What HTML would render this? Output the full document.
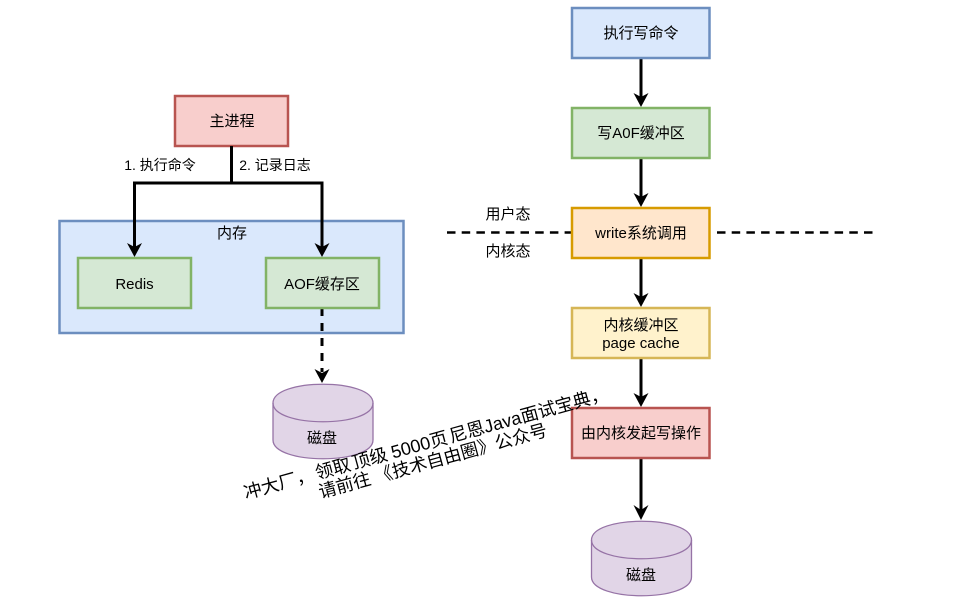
<!DOCTYPE html>
<html><head><meta charset="utf-8">
<style>
html,body{margin:0;padding:0;background:#fff;width:965px;height:603px;overflow:hidden}
svg{display:block}
text{font-family:"Liberation Sans","Noto Sans CJK SC",sans-serif;font-size:15px;fill:#000;text-anchor:middle}
.s{font-size:14px}
</style></head><body>
<svg width="965" height="603" viewBox="0 0 965 603" xmlns="http://www.w3.org/2000/svg">
<!-- memory -->
<rect x="59.500" y="221" width="344" height="112" fill="#dae8fc" stroke="#6c8ebf" stroke-width="2.500"/>
<text x="232" y="238">内存</text>
<!-- main -->
<rect x="175" y="96" width="113" height="50" fill="#f8cecc" stroke="#b85450" stroke-width="2.500"/>
<text x="232" y="126">主进程</text>
<text class="s" x="160" y="170">1. 执行命令</text>
<text class="s" x="275" y="170">2. 记录日志</text>
<!-- connectors left -->
<g fill="none" stroke="#000" stroke-width="3">
<path d="M231.500 146V183"/>
<path d="M134.500 247V183H322V247"/>
<path d="M322 308V372" stroke-dasharray="8 7"/>
</g>
<g fill="#000" stroke="none">
<path d="M134.500 257L127 243L134.500 247L142 243Z"/>
<path d="M322 257L314.500 243L322 247L329.500 243Z"/>
<path d="M322 383L314.500 369L322 373L329.500 369Z"/>
</g>
<rect x="78" y="258" width="113" height="50" fill="#d5e8d4" stroke="#82b366" stroke-width="2.500"/>
<text x="134.500" y="289">Redis</text>
<rect x="266" y="258" width="113" height="50" fill="#d5e8d4" stroke="#82b366" stroke-width="2.500"/>
<text x="322" y="289">AOF缓存区</text>
<!-- left cylinder -->
<path d="M273 403C273 378 373 378 373 403V440C373 465 273 465 273 440Z" fill="#e1d5e7" stroke="#9673a6" stroke-width="1.300"/>
<path d="M273 403C273 428 373 428 373 403" fill="none" stroke="#9673a6" stroke-width="1.300"/>
<text x="322" y="443">磁盘</text>
<!-- dashed divider -->
<path d="M447 232.500H572M717 232.500H873" fill="none" stroke="#000" stroke-width="2.500" stroke-dasharray="8.500 6.200"/>
<text x="508" y="219">用户态</text>
<text x="508" y="256">内核态</text>
<!-- right connectors -->
<g fill="none" stroke="#000" stroke-width="3">
<path d="M641 58V97"/><path d="M641 158V197"/><path d="M641 258V297"/><path d="M641 358V397"/><path d="M641 458V510"/>
</g>
<g fill="#000" stroke="none">
<path d="M641 107L633.500 93L641 97L648.500 93Z"/>
<path d="M641 207L633.500 193L641 197L648.500 193Z"/>
<path d="M641 307L633.500 293L641 297L648.500 293Z"/>
<path d="M641 407L633.500 393L641 397L648.500 393Z"/>
<path d="M641 520L633.500 505L641 510L648.500 505Z"/>
</g>
<!-- right boxes -->
<rect x="572" y="8" width="137.500" height="50" fill="#dae8fc" stroke="#6c8ebf" stroke-width="2.500"/>
<text x="641" y="38">执行写命令</text>
<rect x="572" y="108" width="137.500" height="50" fill="#d5e8d4" stroke="#82b366" stroke-width="2.500"/>
<text x="641" y="138">写A0F缓冲区</text>
<rect x="572" y="208" width="137.500" height="50" fill="#ffe6cc" stroke="#d79b00" stroke-width="2.500"/>
<text x="641" y="238">write系统调用</text>
<rect x="572" y="308" width="137.500" height="50" fill="#fff2cc" stroke="#d6b656" stroke-width="2.500"/>
<text x="641" y="330">内核缓冲区</text>
<text x="641" y="348">page cache</text>
<rect x="572" y="408" width="137.500" height="50" fill="#f8cecc" stroke="#b85450" stroke-width="2.500"/>
<text x="641" y="438">由内核发起写操作</text>
<!-- right cylinder -->
<path d="M591.500 540C591.500 515 691.500 515 691.500 540V577C691.500 602 591.500 602 591.500 577Z" fill="#e1d5e7" stroke="#9673a6" stroke-width="1.300"/>
<path d="M591.500 540C591.500 565 691.500 565 691.500 540" fill="none" stroke="#9673a6" stroke-width="1.300"/>
<text x="641" y="580">磁盘</text>
<!-- rotated note -->
<g transform="rotate(-15.400 428 451)">
<text x="428" y="449" style="font-size:18px;white-space:pre;word-spacing:-2.800px" xml:space="preserve">冲大厂， 领取 顶级  5000页 尼恩Java面试宝典，</text>
<text x="430" y="468" style="font-size:17.800px;white-space:pre" xml:space="preserve">请前往 《技术自由圈》公众号</text>
</g>
</svg>
</body></html>
